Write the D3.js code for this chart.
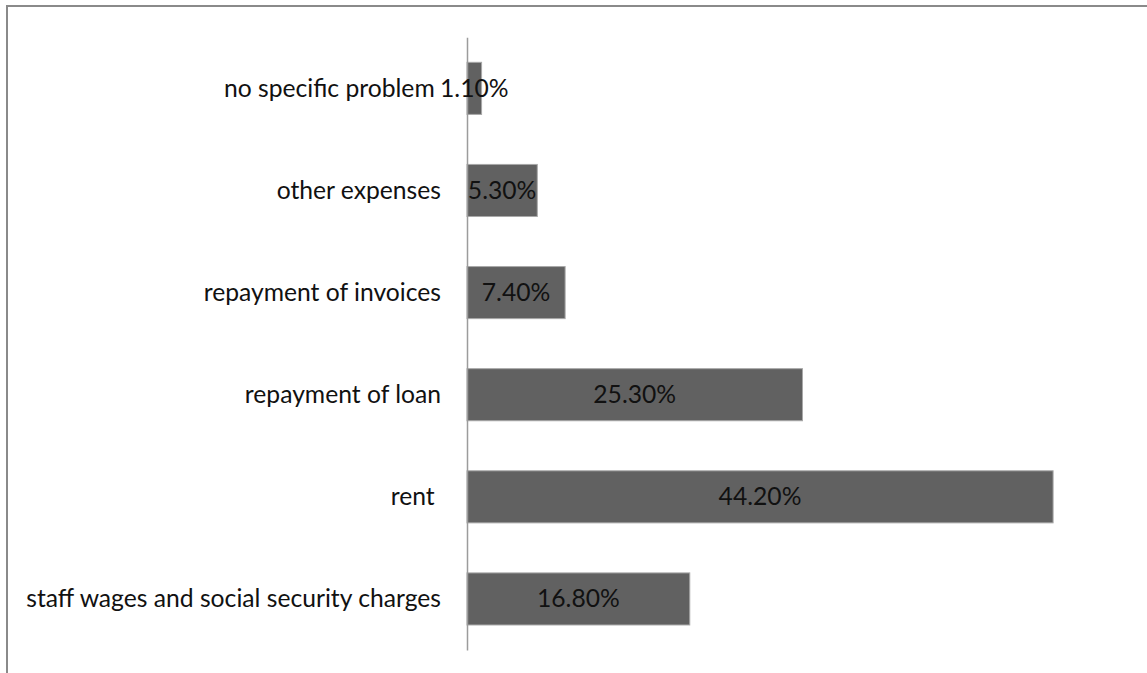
<!DOCTYPE html>
<html>
<head>
<meta charset="utf-8">
<script src="https://cdn.jsdelivr.net/npm/d3@7"></script>
<style>
  html, body { margin: 0; padding: 0; background: #fff; }
  svg { display: block; }
  text { font-family: Lato, "Open Sans", sans-serif; white-space: pre; }
</style>
</head>
<body>
<svg id="chart" width="1147" height="673"></svg>
<script>
// Problems reported, share of respondents (%), listed top to bottom
const categories = [
  "no specific problem ",
  "other expenses",
  "repayment of invoices",
  "repayment of loan",
  "rent ",
  "staff wages and social security charges"
];
const shares = [1.1, 5.3, 7.4, 25.3, 44.2, 16.8];
const valueLabels = ["1.10%", "5.30%", "7.40%", "25.30%", "44.20%", "16.80%"];
const axisMax = 50;

const rows = categories.map((c, i) => ({ category: c, value: shares[i], label: valueLabels[i] }));

const svg = d3.select("#chart");
const W = 1147, H = 673;
const plot = { left: 467, right: 1130, top: 37.3, bottom: 650 };

// pick a font size so the longest category label spans ~415px
const probe = svg.append("text").attr("font-size", 20).text(categories[5]);
const probeWidth = probe.node().getComputedTextLength();
probe.remove();
const fontSize = 20 * 415 / probeWidth;

// outer chart frame
svg.append("rect")
  .attr("x", 7).attr("y", 6)
  .attr("width", W + 20).attr("height", H + 20)
  .attr("fill", "#fff")
  .attr("stroke", "#8a8a8a")
  .attr("stroke-width", 2);

const x = d3.scaleLinear().domain([0, axisMax]).range([plot.left, plot.right]);
const y = d3.scaleBand().domain(categories).range([plot.top, plot.bottom]).paddingInner(0.49).paddingOuter(0.245);

// bars
svg.append("g").selectAll("rect")
  .data(rows)
  .join("rect")
  .attr("x", x(0))
  .attr("y", d => y(d.category))
  .attr("width", d => x(d.value) - x(0))
  .attr("height", y.bandwidth())
  .attr("fill", "#616161")
  .attr("stroke", "#a8a8a8")
  .attr("stroke-width", 1);

// category axis
const yAxis = svg.append("g")
  .attr("transform", `translate(${plot.left},0)`)
  .call(d3.axisLeft(y).tickSize(0).tickPadding(26).tickSizeOuter(0));
yAxis.select(".domain").attr("stroke", "#9c9c9c").attr("stroke-width", 1.5);
yAxis.selectAll("text")
  .attr("font-size", fontSize)
  .attr("fill", "#111")
  .attr("dy", "0.34em")
  .style("font-family", null);

// value labels centred in each bar
svg.append("g").selectAll("text")
  .data(rows)
  .join("text")
  .attr("x", d => (x(0) + x(d.value)) / 2)
  .attr("y", d => y(d.category) + y.bandwidth() / 2)
  .attr("dy", "0.34em")
  .attr("text-anchor", "middle")
  .attr("font-size", fontSize)
  .attr("fill", "#111")
  .text(d => d.label);
</script>
</body>
</html>
